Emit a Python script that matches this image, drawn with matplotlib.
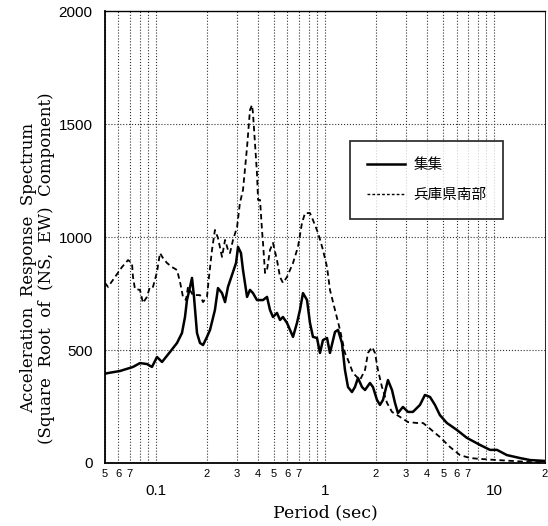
import matplotlib
matplotlib.use("Agg")
import matplotlib.pyplot as plt
from matplotlib.lines import Line2D

plt.rcParams['font.family'] = ['Liberation Sans', 'DejaVu Sans']

# 集集 (Chi-Chi) - solid
chichi_T = [0.05, 0.0521, 0.0613, 0.0732, 0.0805, 0.0885, 0.0948, 0.1015, 0.1087, 0.1211,
            0.1333, 0.1426, 0.1486, 0.1527, 0.1591, 0.1635, 0.168, 0.175, 0.1823, 0.190,
            0.2005, 0.209, 0.2234, 0.2329, 0.246, 0.2564, 0.2668, 0.2857, 0.2978, 0.306,
            0.3185, 0.3274, 0.346, 0.360, 0.375, 0.396, 0.430, 0.454, 0.473, 0.4926,
            0.520, 0.542, 0.564, 0.596, 0.621, 0.647, 0.683, 0.711, 0.741, 0.783,
            0.815, 0.849, 0.897, 0.934, 0.973, 1.028, 1.070, 1.146, 1.194, 1.260,
            1.312, 1.368, 1.444, 1.503, 1.567, 1.656, 1.725, 1.845, 1.922, 2.03,
            2.114, 2.203, 2.357, 2.49, 2.594, 2.70, 2.89, 3.097, 3.31, 3.645,
            3.90, 4.18, 4.47, 4.78, 5.26, 6.03, 6.91, 8.25, 9.46, 10.4,
            11.9, 14.2, 16.3, 20.0]
chichi_A = [395, 398, 407, 425, 442, 438, 425, 469, 447, 491,
            531, 575, 646, 721, 779, 819, 735, 575, 531, 522,
            558, 589, 677, 774, 752, 712, 779, 845, 885, 956,
            929, 854, 735, 766, 752, 721, 721, 735, 677, 646,
            664, 633, 646, 620, 589, 558, 620, 677, 752, 721,
            620, 558, 553, 487, 544, 553, 487, 580, 589, 531,
            412, 336, 314, 336, 376, 336, 323, 354, 336, 279,
            257, 279, 367, 323, 266, 221, 248, 226, 226, 257,
            301, 292, 257, 212, 177, 146, 111, 80, 58, 58,
            35, 22, 13, 9]

# 兵庫県南部 (Hyogo-ken Nanbu) - dashed
kobe_T = [0.05, 0.0521, 0.0573, 0.063, 0.0684, 0.0722, 0.0732, 0.0752, 0.0805, 0.0839,
          0.0885, 0.0922, 0.0961, 0.1015, 0.1057, 0.1101, 0.1163, 0.1245, 0.1333, 0.1389,
          0.1446, 0.1506, 0.1548, 0.1656, 0.1823, 0.190, 0.2005, 0.206, 0.2147, 0.2234,
          0.2329, 0.246, 0.2564, 0.2668, 0.2742, 0.2857, 0.302, 0.314, 0.3274, 0.346,
          0.360, 0.370, 0.375, 0.396, 0.402, 0.413, 0.424, 0.430, 0.442, 0.454,
          0.473, 0.4926, 0.520, 0.542, 0.564, 0.596, 0.647, 0.692, 0.731, 0.762,
          0.815, 0.849, 0.910, 0.973, 1.028, 1.070, 1.146, 1.227, 1.312, 1.368,
          1.465, 1.610, 1.725, 1.796, 1.896, 1.976, 2.056, 2.173, 2.327, 2.49,
          2.776, 3.097, 3.50, 3.80, 4.07, 4.47, 4.78, 5.48, 6.28, 7.20,
          8.25, 10.4, 12.9, 16.3, 20.0]
kobe_A = [797, 779, 823, 867, 898, 885, 823, 770, 766, 708,
          735, 779, 779, 845, 929, 907, 885, 867, 854, 801,
          735, 721, 779, 743, 743, 712, 735, 823, 943, 1031,
          996, 912, 987, 943, 929, 987, 1044, 1151, 1208, 1398,
          1562, 1584, 1549, 1283, 1164, 1164, 1031, 974, 841, 854,
          943, 974, 898, 823, 797, 823, 885, 956, 1062, 1106,
          1106, 1075, 1018, 943, 867, 766, 677, 589, 487, 456,
          398, 367, 412, 487, 513, 487, 412, 336, 266, 226,
          204, 181, 177, 177, 159, 133, 115, 71, 35, 22,
          18, 13, 9, 4, 3]

minor_pos = [0.05, 0.06, 0.07, 0.08, 0.09, 0.2, 0.3, 0.4, 0.5, 0.6, 0.7, 0.8, 0.9,
             2, 3, 4, 5, 6, 7, 8, 9, 20]
minor_lab = ['5', '6', '7', '', '', '2', '3', '4', '5', '6', '7', '', '',
             '2', '3', '4', '5', '6', '7', '', '', '2']
major_pos = [0.1, 1, 10]
major_lab = ['0.1', '1', '10']

fig = plt.figure(figsize=(5.48, 5.26), dpi=100)
ax = fig.add_axes([0.1916, 0.1198, 0.8029, 0.8592])

ax.plot(chichi_T, chichi_A, color='black', lw=1.8, label='集集')
ax.plot(kobe_T, kobe_A, color='black', lw=1.3, ls=(0, (3, 2)), label='兵庫県南部')

ax.set_xscale('log')
ax.set_xlim(0.05, 20)
ax.set_ylim(0, 2000)
ax.set_yticks([0, 500, 1000, 1500, 2000])
ax.set_xticks(major_pos)
ax.set_xticklabels(major_lab, fontsize=11)
ax.set_xticks(minor_pos, minor=True)
ax.set_xticklabels(minor_lab, minor=True, fontsize=8)
ax.tick_params(axis='x', which='major', length=0, pad=15)
ax.tick_params(axis='x', which='minor', length=0, pad=4)
ax.tick_params(axis='y', length=0, labelsize=11, pad=9)

for t in major_pos + minor_pos:
    ax.axvline(t, color='#333333', lw=0.8, ls=':', zorder=0)
for v in [500, 1000, 1500]:
    ax.axhline(v, color='#333333', lw=0.8, ls=':', zorder=0)

for s in ['left', 'bottom']:
    ax.spines[s].set_linewidth(1.3)
ax.spines['top'].set_linewidth(1.0)
ax.spines['right'].set_linewidth(0.6)

ax.set_xlabel('Period (sec)', family='DejaVu Serif', fontsize=12.5, labelpad=5)
fig.text(0.069, 0.49,
         'Acceleration  Response  Spectrum\n(Square  Root  of  (NS,  EW)  Component)',
         family='DejaVu Serif', fontsize=12, rotation=90, ha='center', va='center',
         linespacing=1.05, multialignment='center')

handles = [Line2D([], [], color='black', lw=1.8),
           Line2D([], [], color='black', lw=1.0, ls=(0, (2, 1.5)))]
leg = ax.legend(handles, ['集集', '兵庫県南部'], loc='upper left',
                bbox_to_anchor=(0.557, 0.712), borderaxespad=0, frameon=True,
                fancybox=False, edgecolor='black', handlelength=2.6,
                handletextpad=0.6, borderpad=1.15, labelspacing=1.1,
                prop={'family': ['Noto Sans CJK JP', 'DejaVu Sans'], 'size': 10.5})
leg.get_frame().set_linewidth(1.3)

fig.savefig('out.png', dpi=100)
